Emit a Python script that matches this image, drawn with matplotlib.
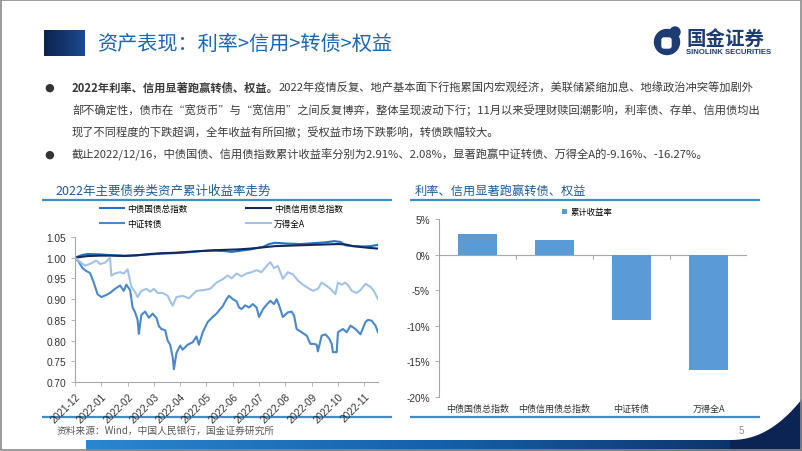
import matplotlib
matplotlib.use('Agg')
import matplotlib.pyplot as plt
import numpy as np
from matplotlib.colors import LinearSegmentedColormap
from matplotlib.patches import Rectangle, FancyBboxPatch, Circle, Polygon

plt.rcParams['font.family'] = ['Liberation Sans', 'Noto Sans CJK SC']
CJK = ['Noto Sans CJK SC', 'DejaVu Sans']

# ---- 数据 ----
# 左图: 交易日序号 / 累计净值
gb_day = [0, 5, 10, 20, 30, 40, 50, 60, 70, 80, 90, 100, 110, 120, 125, 130, 140, 150, 155,
          160, 170, 180, 190, 200, 207, 212, 216, 222, 230, 236, 242]
gb_val = [1.000, 1.006, 1.009, 1.008, 1.006, 1.005, 1.006, 1.008, 1.010, 1.011, 1.013, 1.016,
          1.017, 1.016, 1.014, 1.016, 1.020, 1.026, 1.033, 1.036, 1.034, 1.033, 1.035, 1.037,
          1.040, 1.038, 1.030, 1.028, 1.027, 1.028, 1.031]

cr_day = [0, 10, 20, 30, 40, 50, 60, 70, 80, 90, 100, 110, 120, 130, 140, 150, 160, 170, 180,
          190, 200, 210, 216, 222, 228, 234, 242]
cr_val = [1.000, 1.004, 1.005, 1.005, 1.004, 1.006, 1.009, 1.011, 1.012, 1.014, 1.016, 1.018,
          1.019, 1.020, 1.022, 1.025, 1.028, 1.029, 1.030, 1.031, 1.032, 1.033, 1.032, 1.028,
          1.026, 1.024, 1.022]

cb_day = [0, 3, 6, 9, 12, 15, 18, 21, 25, 28, 32, 36, 39, 41, 44, 46, 48, 50, 51, 53, 56, 59,
          62, 65, 67, 69, 72, 74, 76, 78, 79, 81, 84, 86, 90, 94, 97, 99, 102, 106, 110, 113,
          116, 118, 121, 123, 126, 129, 131, 133, 136, 139, 142, 145, 147, 150, 152, 156, 159,
          161, 163, 166, 170, 173, 175, 177, 181, 185, 188, 191, 193, 194, 197, 200, 203, 205,
          206, 209, 210, 214, 217, 220, 224, 228, 232, 234, 237, 240, 242]
cb_val = [1.000, 0.990, 0.975, 0.968, 0.963, 0.940, 0.912, 0.905, 0.910, 0.915, 0.925, 0.933,
          0.920, 0.935, 0.922, 0.880, 0.868, 0.850, 0.816, 0.862, 0.870, 0.855, 0.865, 0.855,
          0.835, 0.828, 0.825, 0.800, 0.790, 0.760, 0.731, 0.770, 0.788, 0.778, 0.790, 0.796,
          0.810, 0.790, 0.820, 0.845, 0.857, 0.865, 0.876, 0.883, 0.900, 0.908, 0.900, 0.895,
          0.880, 0.876, 0.885, 0.880, 0.888, 0.880, 0.857, 0.875, 0.883, 0.896, 0.888, 0.900,
          0.885, 0.857, 0.868, 0.870, 0.860, 0.828, 0.820, 0.812, 0.792, 0.792, 0.790, 0.774,
          0.812, 0.815, 0.805, 0.792, 0.772, 0.772, 0.820, 0.828, 0.820, 0.836, 0.828, 0.815,
          0.845, 0.850, 0.848, 0.836, 0.820]

wa_day = [0, 4, 8, 12, 17, 20, 24, 27, 28, 29, 32, 36, 39, 42, 45, 48, 50, 53, 57, 60, 63, 66,
          70, 74, 78, 81, 86, 91, 97, 103, 108, 113, 118, 122, 125, 129, 133, 137, 141, 145, 149,
          153, 156, 159, 162, 164, 166, 170, 174, 178, 182, 185, 190, 194, 197, 201, 204, 208,
          210, 213, 216, 219, 221, 225, 228, 232, 236, 239, 242]
wa_val = [1.000, 0.990, 0.981, 0.985, 0.993, 0.985, 0.988, 0.997, 1.000, 0.957, 0.962, 0.965,
          0.962, 0.972, 0.930, 0.917, 0.905, 0.920, 0.925, 0.918, 0.925, 0.915, 0.915, 0.908,
          0.884, 0.905, 0.908, 0.902, 0.920, 0.922, 0.925, 0.940, 0.948, 0.957, 0.950, 0.962,
          0.955, 0.962, 0.965, 0.970, 0.965, 0.980, 0.989, 0.975, 0.980, 0.965, 0.949, 0.965,
          0.960, 0.945, 0.935, 0.929, 0.920, 0.925, 0.940, 0.932, 0.925, 0.912, 0.940, 0.935,
          0.940, 0.930, 0.920, 0.915, 0.922, 0.937, 0.930, 0.918, 0.900]

month_labels = ['2021-12', '2022-01', '2022-02', '2022-03', '2022-04', '2022-05', '2022-06',
                '2022-07', '2022-08', '2022-09', '2022-10', '2022-11']

# 右图
bar_cats = ['中债国债总指数', '中债信用债总指数', '中证转债', '万得全A']
bar_vals = [2.91, 2.08, -9.16, -16.27]

W, H = 802, 452
fig = plt.figure(figsize=(W / 100, H / 100), dpi=100)
fig.patch.set_facecolor('white')

# 背景层 (像素坐标)
bg = fig.add_axes([0, 0, 1, 1])
bg.axis('off')
bg.set_xlim(0, W)
bg.set_ylim(H, 0)

# 标题方块
sq = LinearSegmentedColormap.from_list('sq', ['#0b2350', '#1d4a8e'])
bg.imshow(np.linspace(0, 1, 50).reshape(1, -1), cmap=sq, extent=(44, 85, 57, 31), aspect='auto')
bg.text(97, 44, '资产表现：利率>信用>转债>权益', fontsize=14.5, color='#1b66b3',
        family=CJK, va='center', ha='left')

# logo
bg.add_patch(Circle((667, 43), 12.5, color='#1c3c73'))
bg.add_patch(Circle((675, 33), 5, color='#1c3c73'))
bg.add_patch(FancyBboxPatch((662, 39), 9, 10, boxstyle='round,pad=0,rounding_size=2',
                            color='white'))
bg.text(686, 39, '国金证券', fontsize=14, fontweight='bold', color='#1c3c73',
        family=CJK, va='center', ha='left')
bg.text(686, 53, 'SINOLINK SECURITIES', fontsize=5.6, fontweight='bold', color='#1c3c73',
        va='center', ha='left')

bg.set_xlim(0, W)
bg.set_ylim(H, 0)

# 正文
txt_color = '#3a3a3a'
fs = 8.1
renderer = fig.canvas.get_renderer()
for yy in (88, 155):
    bg.text(49, yy, '●', fontsize=8, color='#333333', family=['DejaVu Sans'],
            va='center', ha='center')
t0 = bg.text(72, 88, '2022年利率、信用显著跑赢转债、权益。', fontsize=fs, fontweight='bold',
             color=txt_color, family=CJK, va='center', ha='left')
x_end = t0.get_window_extent(renderer).x1
bg.text(x_end, 88, '2022年疫情反复、地产基本面下行拖累国内宏观经济，美联储紧缩加息、地缘政治冲突等加剧外',
        fontsize=fs, color=txt_color, family=CJK, va='center', ha='left')
bg.text(72, 110, '部不确定性，债市在“宽货币”与“宽信用”之间反复博弈，整体呈现波动下行；11月以来受理财赎回潮影响，利率债、存单、信用债均出',
        fontsize=fs, color=txt_color, family=CJK, va='center', ha='left')
bg.text(72, 132, '现了不同程度的下跌超调，全年收益有所回撤；受权益市场下跌影响，转债跌幅较大。',
        fontsize=fs, color=txt_color, family=CJK, va='center', ha='left')
bg.text(72, 155, '截止2022/12/16，中债国债、信用债指数累计收益率分别为2.91%、2.08%，显著跑赢中证转债、万得全A的-9.16%、-16.27%。',
        fontsize=fs, color=txt_color, family=CJK, va='center', ha='left')

# 图标题与分隔线
line_c = '#3b8fc2'
bg.text(55, 191, '2022年主要债券类资产累计收益率走势', fontsize=9, color='#1f5c99',
        family=CJK, va='center', ha='left')
bg.text(415, 191, '利率、信用显著跑赢转债、权益', fontsize=8.8, color='#1f5c99',
        family=CJK, va='center', ha='left')
for x0, x1 in ((42, 392), (410, 760)):
    bg.plot([x0, x1], [201, 201], color=line_c, lw=1.6, solid_capstyle='butt')
    bg.plot([x0, x1], [418, 418], color=line_c, lw=1.6, solid_capstyle='butt')

bg.text(57, 431, '资料来源：Wind，中国人民银行，国金证券研究所', fontsize=7, color='#595959',
        family=CJK, va='center', ha='left')
bg.text(741, 431, '5', fontsize=7, color='#8c8c8c', va='center', ha='center')

# 底部色条
bar_cmap = LinearSegmentedColormap.from_list('bar', ['#2a86d0', '#1560a8', '#0b2a5e'])
bg.imshow(np.linspace(0, 1, 200).reshape(1, -1), cmap=bar_cmap, extent=(86, 802, 452, 441),
          aspect='auto')
cx = np.linspace(730, 802, 30)
cy = 441 - 41 * ((cx - 730) / 72) ** 2.2
bg.add_patch(Polygon(list(zip(cx, cy)) + [(802, 452), (730, 452)], closed=True,
                     color='#0b2454', lw=0))
bg.add_patch(Rectangle((0.6, 0.6), 800.2, 450.8, fill=False, ec='#8a8a8a', lw=1.2))
bg.set_xlim(0, W)
bg.set_ylim(H, 0)

# ---- 左图: 折线 ----
ax1 = fig.add_axes([75 / W, 1 - 383 / H, 303 / W, 145 / H])
ax1.set_facecolor('none')
l_gb, = ax1.plot(gb_day, gb_val, color='#2272c3', lw=1.5, label='中债国债总指数')
l_cr, = ax1.plot(cr_day, cr_val, color='#15295e', lw=1.5, label='中债信用债总指数')
l_cb, = ax1.plot(cb_day, cb_val, color='#4a88c9', lw=1.5, label='中证转债')
l_wa, = ax1.plot(wa_day, wa_val, color='#a3c3e6', lw=1.5, label='万得全A')
ax1.set_xlim(0, 242)
ax1.set_ylim(0.70, 1.05)
ax1.set_yticks(np.arange(0.70, 1.051, 0.05))
ax1.set_yticklabels(['%.2f' % v for v in np.arange(0.70, 1.051, 0.05)])
ax1.set_xticks(np.arange(len(month_labels)) * 21)
ax1.set_xticklabels(month_labels, rotation=45, ha='right', rotation_mode='anchor')
for s in ('top', 'right'):
    ax1.spines[s].set_visible(False)
for s in ('left', 'bottom'):
    ax1.spines[s].set_color('#a6a6a6')
    ax1.spines[s].set_linewidth(0.8)
ax1.tick_params(axis='both', labelsize=7.3, colors='#a6a6a6', labelcolor='#333333',
                length=3, width=0.6)
ax1.legend(handles=[l_gb, l_cb, l_cr, l_wa], ncol=2, loc='upper left',
           bbox_to_anchor=(100 / W, 1 - 205 / H), bbox_transform=fig.transFigure,
           frameon=False, prop={'family': CJK, 'size': 6.2}, borderpad=0, borderaxespad=0,
           handlelength=2.8, handletextpad=0.4, columnspacing=6.8, labelspacing=0.65)

# ---- 右图: 柱状 ----
ax2 = fig.add_axes([439 / W, 1 - 398 / H, 308 / W, 178 / H])
ax2.set_facecolor('none')
ax2.bar(range(len(bar_vals)), bar_vals, width=0.5, color='#5b9bd5', label='累计收益率', zorder=2)
ax2.set_xlim(-0.5, 3.5)
ax2.set_ylim(-20, 5)
ax2.set_yticks(np.arange(-20, 6, 5))
ax2.set_yticklabels(['%d%%' % v for v in np.arange(-20, 6, 5)])
ax2.axhline(0, color='#a6a6a6', lw=0.8, zorder=1)
ax2.vlines([0.5, 1.5, 2.5, 3.5], -0.6, 0, color='#a6a6a6', lw=0.8)
ax2.set_xticks(range(len(bar_cats)))
ax2.set_xticklabels(bar_cats, family=CJK, fontsize=6.5)
for s in ('top', 'right', 'bottom'):
    ax2.spines[s].set_visible(False)
ax2.spines['left'].set_color('#a6a6a6')
ax2.spines['left'].set_linewidth(0.8)
ax2.tick_params(axis='y', labelsize=7.3, colors='#a6a6a6', labelcolor='#333333',
                length=3, width=0.6)
ax2.tick_params(axis='x', length=0, pad=5, labelcolor='#333333')
ax2.legend(loc='center', bbox_to_anchor=(587 / W, 1 - 213 / H), bbox_transform=fig.transFigure,
           frameon=False, prop={'family': CJK, 'size': 6}, handlelength=0.6, handleheight=0.6,
           handletextpad=0.4, borderpad=0)

fig.savefig('out.png', dpi=100)
